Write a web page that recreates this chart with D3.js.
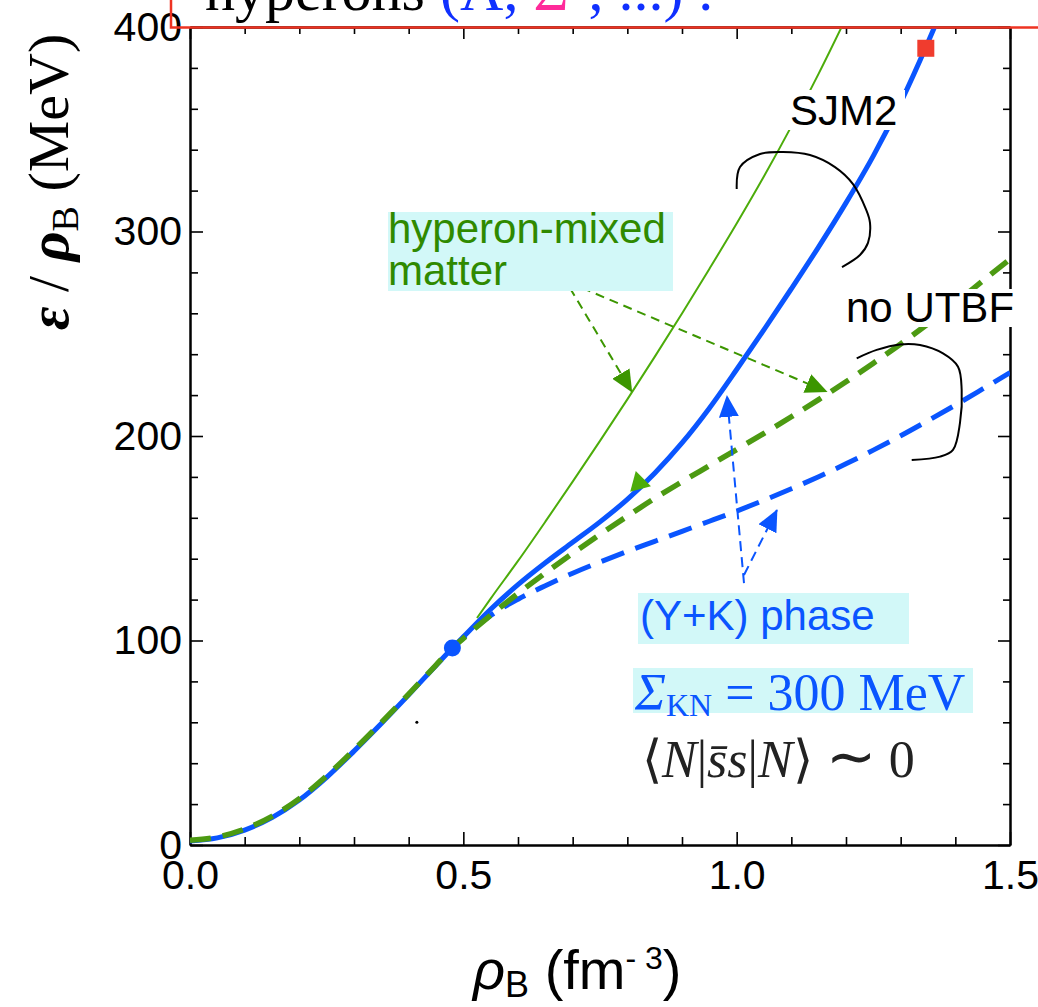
<!DOCTYPE html>
<html lang="en">
<head>
<meta charset="UTF-8">
<title>Energy per baryon, SJM2</title>
<script src="https://d3js.org/d3.v7.min.js"></script>
<style>
  body { margin: 0; background: #fff; }
  svg { display: block; }
</style>
</head>
<body>
<script>
const width = 1038, height = 1007;
const plot = {left: 190, right: 1010, top: 27, bottom: 845};

// SJM2, (Y+K) phase with UTBF (thick blue solid)
const rhoYK = [0, 0.05, 0.1, 0.15, 0.2, 0.25, 0.3, 0.35, 0.4, 0.45, 0.48, 0.5, 0.55, 0.6, 0.65, 0.7, 0.75, 0.8, 0.85, 0.9, 0.95, 1.0, 1.05, 1.1, 1.15, 1.2, 1.25, 1.3, 1.35, 1.37];
const eYK   = [2, 3.5, 7.3, 13.4, 22, 33.1, 45.9, 59.4, 73.4, 87.8, 96.3, 101.8, 115.3, 127.3, 138, 148, 158, 169, 181.8, 196.6, 213.6, 232.5, 252, 272, 292.5, 314, 337, 363, 392.5, 405];

// (Y+K) phase, no UTBF (thick blue dashed)
const rhoYKnoU = [0.48, 0.52, 0.55, 0.6, 0.65, 0.7, 0.75, 0.8, 0.85, 0.9, 0.95, 1.0, 1.05, 1.1, 1.15, 1.2, 1.25, 1.3, 1.35, 1.4, 1.45, 1.5];
const eYKnoU   = [96.3, 106, 112.2, 120.2, 126.8, 132.9, 138.4, 143.6, 148.5, 153.4, 158.3, 163.3, 168.6, 174.2, 180.1, 186.4, 193.1, 200.1, 207.5, 215.1, 223, 231];

// hyperon-mixed matter with UTBF (thin green solid)
const rhoHyp = [0.525, 0.55, 0.6, 0.65, 0.7, 0.75, 0.8, 0.85, 0.9, 0.95, 1.0, 1.05, 1.1, 1.15, 1.2];
const eHyp   = [111, 120.5, 138.9, 158.1, 177.7, 197.6, 217.9, 238.7, 259.9, 281.7, 303.9, 327, 351.4, 377.2, 404.4];

// hyperon-mixed matter, no UTBF (thick green dashed)
const rhoHypNoU = [0, 0.05, 0.1, 0.15, 0.2, 0.25, 0.3, 0.35, 0.4, 0.45, 0.48, 0.5, 0.55, 0.6, 0.65, 0.7, 0.75, 0.8, 0.85, 0.9, 0.95, 1.0, 1.05, 1.1, 1.15, 1.2, 1.25, 1.3, 1.35, 1.4, 1.45, 1.5];
const eHypNoU   = [2.3, 3.9, 7.8, 14, 22.6, 33.8, 46.5, 59.9, 73.8, 88, 96.3, 101, 112.4, 123, 133, 142.6, 151.9, 160.8, 169.5, 177.6, 185.5, 193.4, 201.3, 209.4, 217.8, 226.5, 235.6, 245, 254.9, 265.1, 275.8, 286.5];

// special points
const onsetPoint = [0.48, 96.3];   // blue dot
const maxPoint   = [1.346, 389.6]; // red square
const strayDot   = [0.415, 60];

const xMajor = [0, 0.5, 1.0, 1.5];
const xLabels = ["0.0", "0.5", "1.0", "1.5"];
const yMajor = [0, 100, 200, 300, 400];

// hand-drawn annotation paths (data units)
const braceSJM2 = [[1.0001, 320.8], [1.0061, 331.5], [1.0427, 337.9], [1.0848, 338.9], [1.1341, 337.4], [1.1799, 331.5], [1.2128, 323.2], [1.2366, 310.8], [1.2439, 304.2], [1.2402, 294.4], [1.2256, 288.5], [1.1927, 282.6]];
const braceNoU  = [[1.2196, 238.0], [1.2561, 242.1], [1.2988, 244.8], [1.3354, 244.5], [1.3774, 240.4], [1.4049, 233.9], [1.4116, 222.5], [1.4085, 206.4], [1.3957, 193.2], [1.3720, 189.9], [1.3202, 188.3]];
const greenArrows = [[[0.695, 272.4], [0.808, 221.7]], [[0.717, 272.4], [1.1646, 221.7]]];
const blueArrows  = [[[1.0134, 128.1], [0.9823, 219.6]], [[1.0134, 132.0], [1.0737, 163.8]]];
const greenMark   = [0.8213, 177];

const sans = "'Liberation Sans', Arial, Helvetica, sans-serif";
const serif = "'Liberation Serif', 'Times New Roman', serif";
const blue = "#0a55ff", green = "#4c9a12", lime = "#4cac0a", arrowGreen = "#3c9600";

const x = d3.scaleLinear().domain([0, 1.5]).range([plot.left, plot.right]);
const y = d3.scaleLinear().domain([0, 400]).range([plot.bottom, plot.top]);

const svg = d3.select("body").append("svg")
    .attr("width", width).attr("height", height);

const defs = svg.append("defs");
defs.append("clipPath").attr("id", "clip").append("rect")
    .attr("x", plot.left).attr("y", plot.top)
    .attr("width", plot.right - plot.left).attr("height", plot.bottom - plot.top);

function head(id, color) {
  defs.append("marker").attr("id", id)
      .attr("markerUnits", "userSpaceOnUse")
      .attr("viewBox", "0 0 22 20")
      .attr("markerWidth", 22).attr("markerHeight", 20)
      .attr("refX", 21).attr("refY", 10).attr("orient", "auto")
    .append("path").attr("d", "M0,0L22,10L0,20Z").attr("fill", color);
}
head("hg", arrowGreen);
head("hb", blue);

// axes
const axisStyle = g => {
  g.selectAll(".domain").attr("stroke", "#000").attr("stroke-width", 2);
  g.selectAll(".tick line").attr("stroke", "#000").attr("stroke-width", 1.6);
  g.selectAll("text").attr("font-family", sans).attr("font-size", 41).attr("fill", "#000");
};

const minorX = x.ticks(15).filter(v => !xMajor.includes(v));
const minorY = y.ticks(20).filter(v => !yMajor.includes(v));

// bottom
svg.append("g").attr("transform", `translate(0,${plot.bottom})`)
    .call(d3.axisBottom(x).tickValues(xMajor).tickFormat((d, i) => xLabels[i])
      .tickSizeInner(-13).tickSizeOuter(0).tickPadding(15))
    .call(axisStyle);
svg.append("g").attr("transform", `translate(0,${plot.bottom})`)
    .call(d3.axisBottom(x).tickValues(minorX).tickFormat("").tickSizeInner(-8).tickSizeOuter(0))
    .call(axisStyle);
// top
svg.append("g").attr("transform", `translate(0,${plot.top})`)
    .call(d3.axisTop(x).tickValues(xMajor).tickFormat("").tickSizeInner(-12).tickSizeOuter(0))
    .call(axisStyle);
svg.append("g").attr("transform", `translate(0,${plot.top})`)
    .call(d3.axisTop(x).tickValues(minorX).tickFormat("").tickSizeInner(-7).tickSizeOuter(0))
    .call(axisStyle);
// left
svg.append("g").attr("transform", `translate(${plot.left},0)`)
    .call(d3.axisLeft(y).tickValues(yMajor).tickSizeInner(-13).tickSizeOuter(0).tickPadding(8))
    .call(axisStyle);
svg.append("g").attr("transform", `translate(${plot.left},0)`)
    .call(d3.axisLeft(y).tickValues(minorY).tickFormat("").tickSizeInner(-8).tickSizeOuter(0))
    .call(axisStyle);
// right
svg.append("g").attr("transform", `translate(${plot.right},0)`)
    .call(d3.axisRight(y).tickValues(yMajor).tickFormat("").tickSizeInner(-12).tickSizeOuter(0))
    .call(axisStyle);
svg.append("g").attr("transform", `translate(${plot.right},0)`)
    .call(d3.axisRight(y).tickValues(minorY).tickFormat("").tickSizeInner(-7).tickSizeOuter(0))
    .call(axisStyle);

// curves
const line = d3.line().x(d => x(d[0])).y(d => y(d[1])).curve(d3.curveMonotoneX);
const curves = svg.append("g").attr("clip-path", "url(#clip)");

curves.append("path").datum(d3.zip(rhoYK, eYK)).attr("d", line)
    .attr("fill", "none").attr("stroke", blue).attr("stroke-width", 5);
curves.append("path").datum(d3.zip(rhoYKnoU, eYKnoU)).attr("d", line)
    .attr("fill", "none").attr("stroke", blue).attr("stroke-width", 5)
    .attr("stroke-dasharray", "24,12").attr("stroke-dashoffset", 6);
curves.append("path").datum(d3.zip(rhoHyp, eHyp)).attr("d", line)
    .attr("fill", "none").attr("stroke", lime).attr("stroke-width", 2);
curves.append("path").datum(d3.zip(rhoHypNoU, eHypNoU)).attr("d", line)
    .attr("fill", "none").attr("stroke", green).attr("stroke-width", 5.5)
    .attr("stroke-dasharray", "21,12");

svg.append("circle").attr("cx", x(strayDot[0])).attr("cy", y(strayDot[1]))
    .attr("r", 1.5).attr("fill", "#000");
svg.append("circle").attr("cx", x(onsetPoint[0])).attr("cy", y(onsetPoint[1]))
    .attr("r", 8.5).attr("fill", blue);
svg.append("rect").attr("x", x(maxPoint[0]) - 8.5).attr("y", y(maxPoint[1]) - 8.5)
    .attr("width", 17).attr("height", 17).attr("fill", "#f03c2e");

// annotations
const free = d3.line().x(d => x(d[0])).y(d => y(d[1])).curve(d3.curveCatmullRom);
[braceSJM2, braceNoU].forEach(b => {
  svg.append("path").datum(b).attr("d", free)
      .attr("fill", "none").attr("stroke", "#000").attr("stroke-width", 2);
});
greenArrows.forEach(a => {
  svg.append("path").datum(a).attr("d", d3.line().x(d => x(d[0])).y(d => y(d[1])))
      .attr("stroke", arrowGreen).attr("stroke-width", 2).attr("stroke-dasharray", "9,6")
      .attr("marker-end", "url(#hg)");
});
blueArrows.forEach(a => {
  svg.append("path").datum(a).attr("d", d3.line().x(d => x(d[0])).y(d => y(d[1])))
      .attr("stroke", blue).attr("stroke-width", 2).attr("stroke-dasharray", "10,6")
      .attr("marker-end", "url(#hb)");
});
svg.append("path").attr("d", d3.symbol(d3.symbolTriangle, 200)())
    .attr("transform", `translate(${x(greenMark[0])},${y(greenMark[1])}) rotate(-15)`)
    .attr("fill", lime);

// labels
function label(tx, ty, str, color) {
  return svg.append("text").attr("x", tx).attr("y", ty)
      .attr("font-family", sans).attr("font-size", 42).attr("fill", color || "#000").text(str);
}
svg.append("rect").attr("x", 388).attr("y", 212).attr("width", 285).attr("height", 79).attr("fill", "#d2f8f8");
label(388, 243, "hyperon-mixed", "#2f8a00");
label(388, 285, "matter", "#2f8a00");

svg.append("rect").attr("x", 787).attr("y", 90).attr("width", 118).attr("height", 40).attr("fill", "#fff");
label(790, 125, "SJM2");
svg.append("rect").attr("x", 842).attr("y", 289).attr("width", 178).attr("height", 38).attr("fill", "#fff");
label(846, 322, "no UTBF");

svg.append("rect").attr("x", 638).attr("y", 593).attr("width", 271).attr("height", 51).attr("fill", "#d2f8f8");
label(640, 630, "(Y+K) phase", blue);

svg.append("rect").attr("x", 633).attr("y", 668).attr("width", 340).attr("height", 45).attr("fill", "#d2f8f8");
const sig = svg.append("text").attr("x", 635).attr("y", 710)
    .attr("font-family", serif).attr("font-size", 52).attr("fill", blue);
sig.append("tspan").attr("font-style", "italic").text("Σ");
sig.append("tspan").attr("font-size", 32).attr("dy", 6).text("KN");
sig.append("tspan").attr("dy", -6).text(" = 300 MeV");

const sbar = svg.append("text").attr("x", 642).attr("y", 777)
    .attr("font-family", serif).attr("font-size", 52).attr("fill", "#222");
sbar.append("tspan").text("⟨");
sbar.append("tspan").attr("font-style", "italic").text("N");
sbar.append("tspan").text("|");
sbar.append("tspan").attr("font-style", "italic").text("s\u0304s");
sbar.append("tspan").text("|");
sbar.append("tspan").attr("font-style", "italic").text("N");
sbar.append("tspan").text("⟩ ");
sbar.append("tspan").attr("font-size", 60).text("∼");
sbar.append("tspan").text(" 0");

// axis titles
const xt = svg.append("text").attr("x", 473).attr("y", 989)
    .attr("font-family", sans).attr("font-size", 56).attr("fill", "#000");
xt.append("tspan").attr("font-style", "italic").text("ρ");
xt.append("tspan").attr("font-size", 36).attr("dy", 8).text("B");
xt.append("tspan").attr("dy", -8).text(" (fm");
xt.append("tspan").attr("font-size", 32).attr("dy", -20).text("- 3");
xt.append("tspan").attr("dy", 20).text(")");

const yt = svg.append("text").attr("transform", "translate(68,182) rotate(-90)")
    .attr("text-anchor", "middle")
    .attr("font-family", serif).attr("font-size", 58).attr("fill", "#000");
yt.append("tspan").attr("font-style", "italic").attr("font-weight", "bold").text("ε");
yt.append("tspan").text(" / ");
yt.append("tspan").attr("font-style", "italic").attr("font-weight", "bold").text("ρ");
yt.append("tspan").attr("font-size", 38).attr("dy", 10).text("B");
yt.append("tspan").attr("dy", -10).text(" (MeV)");

// cut-off slide title and red frame
const title = svg.append("text").attr("x", 205).attr("y", 10)
    .attr("font-family", serif).attr("font-size", 60).attr("fill", "#000");
title.append("tspan").text("hyperons ");
title.append("tspan").attr("fill", "#1030ff").text("(Λ, ");
title.append("tspan").attr("fill", "#ff2a9a").text("Σ");
title.append("tspan").attr("fill", "#1030ff").text("⁻, ...) .");
svg.append("path").attr("d", "M171,0V27.5H1038")
    .attr("fill", "none").attr("stroke", "#ee3322").attr("stroke-width", 2.5);
</script>
</body>
</html>
